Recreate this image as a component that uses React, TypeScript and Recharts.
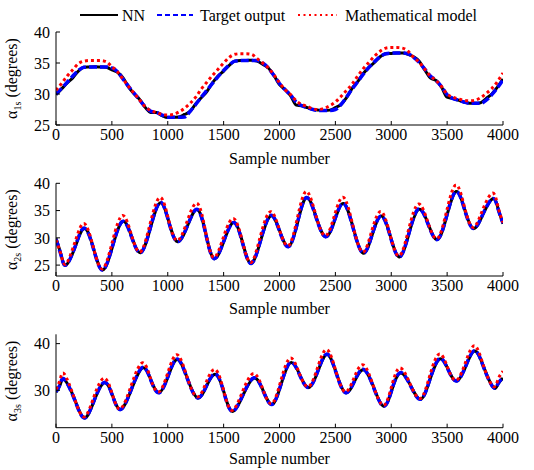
import React from 'react';
import { LineChart, Line, XAxis, YAxis, Label } from 'recharts';

const FONT = '"Liberation Serif", "Times New Roman", Times, serif';

const X_TICKS = [0, 500, 1000, 1500, 2000, 2500, 3000, 3500, 4000];
const SERIES_NAMES = ['NN', 'Target output', 'Mathematical model'];
const Y_LABEL_SUBS = ['1s', '2s', '3s'];

// ---------- Panel 1 (alpha_1s) ----------
const X1 = [
  0, 50, 100, 150, 200, 250, 300, 350, 400, 450,
  500, 550, 600, 650, 700, 750, 800, 850, 900, 950,
  1000, 1050, 1100, 1150, 1200, 1250, 1300, 1350, 1400, 1450,
  1500, 1550, 1600, 1650, 1700, 1750, 1800, 1850, 1900, 1950,
  2000, 2050, 2100, 2150, 2200, 2250, 2300, 2350, 2400, 2450,
  2500, 2550, 2600, 2650, 2700, 2750, 2800, 2850, 2900, 2950,
  3000, 3050, 3100, 3150, 3200, 3250, 3300, 3350, 3400, 3450,
  3500, 3550, 3600, 3650, 3700, 3750, 3800, 3850, 3900, 3950,
  4000,
];
const NN1 = [
  29.9, 30.8, 31.8, 32.6, 33.7, 34.3, 34.35, 34.4, 34.35, 34.3,
  33.9, 33.5, 32.6, 31.1, 30.0, 29.1, 27.8, 27.0, 27.0, 26.5,
  26.2, 26.25, 26.3, 26.7, 27.2, 28.4, 29.4, 30.4, 31.8, 32.9,
  33.7, 34.6, 35.3, 35.4, 35.4, 35.45, 35.3, 34.8, 34.2, 33.0,
  31.5, 30.7, 29.7, 28.2, 28.1, 27.8, 27.5, 27.4, 27.35, 27.4,
  27.8, 28.3, 29.4, 30.9, 32.0, 33.3, 34.3, 35.1, 36.0, 36.5,
  36.55, 36.6, 36.6, 36.4, 36.0, 35.3, 33.9, 32.6, 32.2, 31.1,
  29.5, 29.3, 29.0, 28.7, 28.5, 28.5, 28.6, 29.3, 30.0, 31.1,
  32.4,
];
const TARGET1 = [
  30.0, 30.9, 31.9, 32.9, 33.8, 34.3, 34.35, 34.35, 34.35, 34.35,
  34.2, 33.6, 32.4, 31.2, 30.1, 29.0, 27.9, 27.2, 27.0, 26.6,
  26.25, 26.25, 26.25, 26.3, 27.2, 28.3, 29.5, 30.6, 31.7, 32.8,
  33.8, 34.7, 35.3, 35.4, 35.4, 35.4, 35.4, 35.0, 34.2, 33.0,
  31.7, 30.7, 29.8, 28.7, 28.1, 27.8, 27.5, 27.35, 27.35, 27.35,
  27.5, 28.3, 29.5, 30.8, 32.0, 33.2, 34.3, 35.2, 36.0, 36.5,
  36.6, 36.6, 36.6, 36.5, 35.9, 35.1, 34.0, 32.9, 32.2, 31.2,
  29.9, 29.3, 29.0, 28.7, 28.5, 28.5, 28.5, 29.0, 29.9, 31.0,
  32.3,
];
const MODEL1 = [
  30.6, 31.7, 32.9, 33.9, 34.9, 35.3, 35.4, 35.4, 35.4, 35.2,
  34.4, 33.6, 32.4, 31.2, 30.1, 29.0, 27.9, 27.3, 27.0, 26.7,
  26.6, 26.7, 27.1, 27.7, 28.5, 29.5, 30.8, 31.9, 33.0, 34.0,
  35.0, 35.9, 36.4, 36.5, 36.5, 36.4, 35.7, 35.0, 34.2, 33.1,
  31.8, 30.7, 29.9, 28.9, 28.3, 28.0, 27.6, 27.5, 27.7, 28.1,
  28.7, 29.6, 30.6, 31.6, 32.9, 34.1, 35.1, 36.1, 36.9, 37.4,
  37.5, 37.5, 37.4, 36.9, 35.9, 35.1, 34.0, 32.9, 32.2, 31.2,
  30.0, 29.5, 29.2, 29.0, 28.9, 29.0, 29.4, 30.1, 30.9, 32.0,
  33.4,
];

// ---------- Panel 2 (alpha_2s) ----------
const X2 = [
  0, 45, 89, 171, 253, 335, 417, 506, 595, 677,
  759, 845, 932, 1009, 1086, 1175, 1265, 1340, 1414, 1503,
  1592, 1670, 1747, 1833, 1920, 2001, 2083, 2162, 2241, 2326,
  2411, 2492, 2574, 2660, 2747, 2829, 2911, 2992, 3074, 3159,
  3244, 3329, 3414, 3497, 3580, 3657, 3735, 3821, 3908, 3954,
  4000,
];
const NN2 = [
  29.9, 26.9, 25.0, 28.3, 31.7, 28.1, 24.1, 28.4, 33.0, 30.2,
  27.3, 31.8, 36.4, 33.0, 29.3, 32.1, 35.2, 30.8, 26.2, 29.4,
  32.8, 29.1, 25.3, 29.6, 34.0, 31.3, 28.4, 32.8, 37.4, 33.9,
  30.2, 33.1, 36.3, 31.8, 27.2, 30.5, 34.0, 30.3, 26.5, 30.8,
  35.2, 32.6, 29.7, 34.0, 38.5, 35.2, 31.7, 34.3, 37.2, 35.5,
  32.6,
];
const TARGET2 = [
  29.8, 26.8, 25.0, 28.4, 31.8, 28.0, 24.1, 28.5, 33.0, 30.1,
  27.3, 31.9, 36.5, 32.9, 29.3, 32.2, 35.2, 30.7, 26.2, 29.5,
  32.8, 29.0, 25.3, 29.7, 34.1, 31.2, 28.4, 32.9, 37.4, 33.8,
  30.2, 33.2, 36.3, 31.7, 27.2, 30.6, 34.0, 30.2, 26.5, 30.9,
  35.3, 32.5, 29.7, 34.1, 38.5, 35.1, 31.7, 34.4, 37.2, 35.4,
  32.7,
];
const MODEL2 = [
  29.6, 26.9, 25.2, 29.3, 32.6, 28.2, 24.3, 29.4, 34.1, 30.4,
  27.5, 32.8, 37.4, 33.2, 29.5, 33.1, 36.3, 31.0, 26.4, 30.4,
  33.5, 29.2, 25.5, 30.6, 34.8, 31.4, 28.6, 33.8, 38.5, 34.1,
  30.4, 34.1, 37.4, 32.0, 27.4, 31.5, 34.8, 30.4, 26.7, 31.8,
  36.2, 32.8, 29.9, 35.0, 39.7, 35.5, 31.9, 35.3, 38.2, 35.8,
  32.8,
];

// ---------- Panel 3 (alpha_3s) ----------
const X3 = [
  0, 37, 74, 163, 253, 342, 432, 506, 580, 677,
  774, 848, 923, 1004, 1086, 1175, 1265, 1347, 1429, 1503,
  1577, 1674, 1771, 1853, 1935, 2016, 2098, 2180, 2262, 2344,
  2426, 2507, 2589, 2671, 2753, 2842, 2932, 3006, 3080, 3172,
  3265, 3348, 3432, 3509, 3586, 3668, 3750, 3832, 3914, 3957,
  4000,
];
const NN3 = [
  29.6, 31.2, 32.3, 28.3, 24.1, 27.8, 31.6, 28.9, 25.9, 30.3,
  34.8, 32.3, 29.5, 33.0, 36.6, 32.6, 28.4, 30.9, 33.4, 29.6,
  25.5, 29.0, 32.6, 30.0, 27.0, 31.4, 35.9, 33.4, 30.6, 34.1,
  37.7, 33.8, 29.5, 31.9, 34.4, 30.7, 26.6, 30.1, 33.7, 31.1,
  28.1, 32.4, 36.7, 34.5, 32.0, 35.2, 38.4, 34.7, 30.6, 31.4,
  32.6,
];
const TARGET3 = [
  29.7, 31.3, 32.4, 28.2, 24.1, 27.9, 31.7, 28.8, 25.9, 30.4,
  34.9, 32.2, 29.5, 33.1, 36.7, 32.5, 28.4, 31.0, 33.5, 29.5,
  25.5, 29.1, 32.7, 29.9, 27.0, 31.5, 36.0, 33.3, 30.6, 34.2,
  37.8, 33.7, 29.5, 32.0, 34.5, 30.6, 26.6, 30.2, 33.8, 31.0,
  28.1, 32.5, 36.8, 34.4, 32.0, 35.3, 38.5, 34.6, 30.6, 31.5,
  32.7,
];
const MODEL3 = [
  30.2, 32.3, 33.5, 28.4, 24.3, 28.8, 32.6, 29.0, 26.1, 31.3,
  35.9, 32.4, 29.7, 34.0, 37.6, 32.7, 28.6, 31.9, 34.4, 29.7,
  25.7, 30.0, 33.6, 30.1, 27.2, 32.4, 36.9, 33.5, 30.8, 35.1,
  38.7, 33.9, 29.7, 32.9, 35.4, 30.8, 26.8, 31.1, 34.8, 31.2,
  28.3, 33.4, 37.8, 34.6, 32.2, 36.2, 39.5, 34.8, 30.8, 32.4,
  34.1,
];

const Y1_TICKS = [25, 30, 35, 40];
const Y2_TICKS = [25, 30, 35, 40];
const Y3_TICKS = [30, 40];

type Row = { x: number; nn: number; target: number; model: number };
const build = (xs: number[], nn: number[], t: number[], m: number[]): Row[] =>
  xs.map((x, i) => ({ x, nn: nn[i], target: t[i], model: m[i] }));

const DATA1 = build(X1, NN1, TARGET1, MODEL1);
const DATA2 = build(X2, NN2, TARGET2, MODEL2);
const DATA3 = build(X3, NN3, TARGET3, MODEL3);

const COLORS = { nn: '#000000', target: '#0000ff', model: '#ff0000' };

const tickStyle = { fill: '#000', fontSize: 16, fontFamily: FONT };

const makeYLabel = (sub: string) => (props: any) => {
  const vb = props && props.viewBox ? props.viewBox : { y: 0, height: 0 };
  const cy = (vb.y || 0) + (vb.height || 0) / 2;
  const bx = 17;
  return (
    <text
      x={bx}
      y={cy}
      transform={`rotate(-90 ${bx} ${cy})`}
      textAnchor="middle"
      fontFamily={FONT}
      fontSize={16}
      fill="#000"
    >
      α
      <tspan fontSize={10} dy={4}>{sub}</tspan>
      <tspan dy={-4}>{' (degrees)'}</tspan>
    </text>
  );
};

type PanelProps = {
  top: number;
  height: number;
  data: Row[];
  yDomain: [number, number];
  yTicks: number[];
  sub: string;
  marginTop: number;
  marginBottom: number;
  labelOffset: number;
  curve: 'monotone' | 'natural';
};

function Panel({ top, height, data, yDomain, yTicks, sub, marginTop, marginBottom, labelOffset, curve }: PanelProps) {
  return (
    <div style={{ position: 'absolute', left: 0, top, width: 534, height }}>
      <LineChart
        width={534}
        height={height}
        data={data}
        margin={{ top: marginTop, right: 31, bottom: marginBottom, left: 6 }}
      >
        <XAxis
          xAxisId="b"
          dataKey="x"
          type="number"
          domain={[0, 4000]}
          ticks={X_TICKS}
          interval={0}
          allowDataOverflow
          orientation="bottom"
          height={40}
          tickSize={-4}
          tickMargin={8}
          stroke="#000"
          tick={tickStyle}
        >
          <Label
            value="Sample number"
            position="insideBottom"
            offset={labelOffset}
            fill="#000"
            fontSize={16}
            fontFamily={FONT}
          />
        </XAxis>
        <XAxis
          xAxisId="t"
          dataKey="x"
          type="number"
          domain={[0, 4000]}
          ticks={X_TICKS}
          interval={0}
          allowDataOverflow
          orientation="top"
          height={0}
          tickSize={-4}
          tick={false}
          stroke="#000"
        />
        <YAxis
          yAxisId="l"
          type="number"
          domain={yDomain}
          ticks={yTicks}
          interval={0}
          allowDataOverflow
          width={50}
          tickSize={-4}
          tickMargin={10}
          stroke="#000"
          tick={tickStyle}
        >
          <Label content={makeYLabel(sub)} />
        </YAxis>
        <YAxis
          yAxisId="r"
          orientation="right"
          type="number"
          domain={yDomain}
          ticks={yTicks}
          interval={0}
          allowDataOverflow
          width={0}
          tickSize={-4}
          tick={false}
          stroke="#000"
        />
        <Line
          xAxisId="b"
          yAxisId="l"
          dataKey="nn"
          name={SERIES_NAMES[0]}
          type={curve}
          stroke={COLORS.nn}
          strokeWidth={3}
          dot={false}
          isAnimationActive={false}
        />
        <Line
          xAxisId="b"
          yAxisId="l"
          dataKey="target"
          name={SERIES_NAMES[1]}
          type={curve}
          stroke={COLORS.target}
          strokeWidth={3.5}
          strokeDasharray="8 3"
          dot={false}
          isAnimationActive={false}
        />
        <Line
          xAxisId="b"
          yAxisId="l"
          dataKey="model"
          name={SERIES_NAMES[2]}
          type={curve}
          stroke={COLORS.model}
          strokeWidth={3}
          strokeDasharray="3 3"
          dot={false}
          isAnimationActive={false}
        />
      </LineChart>
    </div>
  );
}

function LegendBar() {
  const y = 15;
  return (
    <svg width={534} height={28} style={{ position: 'absolute', left: 0, top: 0 }}>
      <line x1={80} x2={118} y1={y} y2={y} stroke={COLORS.nn} strokeWidth={2} />
      <text x={122} y={21} fontFamily={FONT} fontSize={16} fill="#000">{SERIES_NAMES[0]}</text>
      <line x1={157} x2={193} y1={y} y2={y} stroke={COLORS.target} strokeWidth={2} strokeDasharray="5 3" />
      <text x={200} y={21} fontFamily={FONT} fontSize={16} fill="#000">{SERIES_NAMES[1]}</text>
      <line x1={298} x2={337} y1={y} y2={y} stroke={COLORS.model} strokeWidth={2} strokeDasharray="2 3.5" />
      <text x={345} y={21} fontFamily={FONT} fontSize={16} fill="#000">{SERIES_NAMES[2]}</text>
    </svg>
  );
}

export default function App() {
  return (
    <div style={{ position: 'absolute', left: 0, top: 0, width: 534, height: 470, background: '#fff' }}>
      <Panel
        top={0}
        height={170}
        data={DATA1}
        yDomain={[25, 40]}
        yTicks={Y1_TICKS}
        sub={Y_LABEL_SUBS[0]}
        marginTop={32}
        marginBottom={5}
        labelOffset={1.5}
        curve="monotone"
      />
      <Panel
        top={150}
        height={170}
        data={DATA2}
        yDomain={[23, 40]}
        yTicks={Y2_TICKS}
        sub={Y_LABEL_SUBS[1]}
        marginTop={33.3}
        marginBottom={4}
        labelOffset={2}
        curve="natural"
      />
      <Panel
        top={300}
        height={170}
        data={DATA3}
        yDomain={[22, 42]}
        yTicks={Y3_TICKS}
        sub={Y_LABEL_SUBS[2]}
        marginTop={34.3}
        marginBottom={2.3}
        labelOffset={4}
        curve="natural"
      />
      <LegendBar />
    </div>
  );
}
